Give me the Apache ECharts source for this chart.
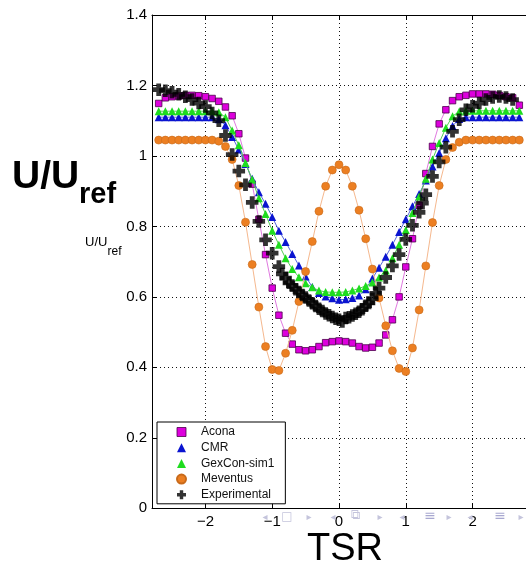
<!DOCTYPE html>
<html><head><meta charset="utf-8">
<script src="https://cdn.jsdelivr.net/npm/echarts@6/dist/echarts.min.js"></script>
<style>html,body{margin:0;padding:0;background:#fff}#c{width:526px;height:568px}</style>
</head><body><div id="c"></div>
<script>
// ---- data ----
const tsrModel = [-2.7,-2.6,-2.5,-2.4,-2.3,-2.2,-2.1,-2.0,-1.9,-1.8,-1.7,-1.6,-1.5,-1.4,-1.3,-1.2,-1.1,-1.0,-0.9,-0.8,-0.7,-0.6,-0.5,-0.4,-0.3,-0.2,-0.1,0,0.1,0.2,0.3,0.4,0.5,0.6,0.7,0.8,0.9,1.0,1.1,1.2,1.3,1.4,1.5,1.6,1.7,1.8,1.9,2.0,2.1,2.2,2.3,2.4,2.5,2.6,2.7];
const acona = [1.149,1.165,1.168,1.170,1.172,1.172,1.171,1.168,1.163,1.155,1.139,1.114,1.063,0.994,0.920,0.820,0.720,0.625,0.548,0.497,0.466,0.450,0.447,0.450,0.459,0.470,0.473,0.475,0.473,0.469,0.459,0.455,0.457,0.469,0.492,0.535,0.600,0.685,0.765,0.860,0.950,1.027,1.091,1.131,1.157,1.168,1.172,1.176,1.176,1.176,1.175,1.172,1.168,1.165,1.144];
const cmr = [1.110,1.110,1.110,1.110,1.110,1.110,1.110,1.110,1.110,1.104,1.087,1.054,1.018,0.977,0.935,0.897,0.864,0.827,0.788,0.756,0.722,0.689,0.658,0.628,0.611,0.601,0.596,0.592,0.593,0.597,0.604,0.622,0.652,0.683,0.714,0.748,0.784,0.820,0.857,0.892,0.930,0.970,1.008,1.050,1.085,1.105,1.110,1.110,1.110,1.110,1.110,1.110,1.110,1.110,1.110];
const gexcon = [1.127,1.127,1.127,1.127,1.127,1.127,1.127,1.127,1.127,1.124,1.110,1.072,1.030,0.980,0.933,0.880,0.835,0.788,0.748,0.710,0.679,0.656,0.639,0.627,0.618,0.614,0.613,0.613,0.614,0.618,0.624,0.631,0.641,0.655,0.675,0.710,0.748,0.790,0.838,0.885,0.935,0.990,1.037,1.080,1.113,1.126,1.128,1.128,1.128,1.128,1.128,1.128,1.128,1.128,1.128];
const meventus = [1.045,1.045,1.045,1.045,1.045,1.045,1.045,1.045,1.045,1.042,1.027,0.990,0.916,0.812,0.692,0.571,0.459,0.394,0.391,0.440,0.505,0.587,0.672,0.757,0.843,0.914,0.960,0.975,0.960,0.914,0.846,0.765,0.679,0.597,0.518,0.447,0.397,0.388,0.455,0.563,0.688,0.811,0.916,0.990,1.024,1.039,1.045,1.045,1.045,1.045,1.045,1.045,1.045,1.045,1.045];
const expX = [-2.7,-2.6,-2.5,-2.4,-2.3,-2.2,-2.1,-2.0,-1.9,-1.8,-1.7,-1.6,-1.5,-1.4,-1.3,-1.2,-1.1,-1.0,-0.9,-0.85,-0.8,-0.75,-0.7,-0.65,-0.6,-0.55,-0.5,-0.45,-0.4,-0.35,-0.3,-0.25,-0.2,-0.15,-0.1,-0.05,0,0.05,0.1,0.15,0.2,0.25,0.3,0.35,0.4,0.45,0.5,0.55,0.6,0.7,0.8,0.9,1.0,1.1,1.2,1.25,1.3,1.4,1.5,1.6,1.7,1.8,1.9,2.0,2.1,2.2,2.3,2.4,2.5,2.6];
const expY = [1.188,1.185,1.181,1.175,1.168,1.160,1.150,1.140,1.122,1.100,1.058,1.004,0.957,0.918,0.868,0.814,0.762,0.724,0.686,0.665,0.653,0.640,0.632,0.622,0.614,0.605,0.598,0.590,0.582,0.574,0.566,0.560,0.553,0.548,0.543,0.538,0.535,0.530,0.540,0.542,0.547,0.552,0.558,0.565,0.575,0.583,0.595,0.610,0.625,0.655,0.688,0.720,0.763,0.803,0.840,0.866,0.890,0.942,0.983,1.025,1.070,1.103,1.131,1.141,1.150,1.160,1.166,1.169,1.166,1.160];
const seriesNames = ['Acona','CMR','GexCon-sim1','Meventus','Experimental'];
const xTicks = [-2,-1,0,1,2];

// ---- chart ----
function pairs(xs, ys){ return xs.map((x,i)=>[x, ys[i]]); }
const plusPath = 'path://M3.4,0H7.6V3.4H11V7.6H7.6V11H3.4V7.6H0V3.4H3.4Z';
const FF = '"Liberation Sans", Arial, sans-serif';
const chart = echarts.init(document.getElementById('c'), null, {renderer:'canvas'});
const navColor = '#c4c4dc';
function nav(t, x, y, size, color){
  return {type:'text', x:x, y:y, z:5, style:{text:t, fontSize:size, fontFamily:'DejaVu Sans', fill:color||navColor, align:'center', textAlign:'center', verticalAlign:'middle', textVerticalAlign:'middle'}};
}
const option = {
  animation:false,
  backgroundColor:'#fff',
  textStyle:{fontFamily:FF},
  grid:{left:152, right:-2.3, top:15, bottom:59.7},
  xAxis:[{
    type:'value', min:-2.8, max:2.8, splitNumber:5,
    axisLine:{show:true, onZero:false, lineStyle:{color:'#000', width:1}},
    axisTick:{show:true, inside:true, length:5, lineStyle:{color:'#000'}},
    axisLabel:{showMinLabel:false, showMaxLabel:false, color:'#000', fontSize:15, fontFamily:FF, margin:6,
      formatter:v => (xTicks.indexOf(v) >= 0 ? String(v).replace('-', '\u2212') : '')},
    splitLine:{show:true, lineStyle:{color:'#111', type:[1,3], width:1}}
  },{
    type:'value', position:'top', min:-2.8, max:2.8, splitNumber:5,
    axisLine:{show:true, onZero:false, lineStyle:{color:'#000', width:1}},
    axisTick:{show:true, inside:true, length:5, lineStyle:{color:'#000'}},
    axisLabel:{show:false}, splitLine:{show:false}
  }],
  yAxis:[{
    type:'value', min:0, max:1.4, interval:0.2,
    axisLine:{show:true, onZero:false, lineStyle:{color:'#000', width:1}},
    axisTick:{show:true, inside:true, length:5, lineStyle:{color:'#000'}},
    axisLabel:{color:'#000', fontSize:15, fontFamily:FF, margin:5},
    splitLine:{show:true, lineStyle:{color:'#111', type:[1,3], width:1}}
  }],
  legend:{
    orient:'vertical', left:157, top:422, padding:[4,11,3,19], itemGap:3.7,
    itemWidth:9, itemHeight:9, backgroundColor:'#fff', borderColor:'#000', borderWidth:1, borderRadius:0,
    selectedMode:false,
    textStyle:{fontSize:12, color:'#111', fontFamily:FF, padding:[0,0,0,10]},
    data:[
      {name:seriesNames[0], icon:'rect', itemStyle:{borderWidth:0.8}},
      {name:seriesNames[1], icon:'triangle'},
      {name:seriesNames[2], icon:'triangle'},
      {name:seriesNames[3], icon:'circle'},
      {name:seriesNames[4], icon:plusPath}
    ]
  },
  series:[
    {name:seriesNames[0], type:'line', data:pairs(tsrModel, acona), symbol:'rect', symbolSize:6.5, showSymbol:true,
     lineStyle:{color:'#e07ae0', width:1}, itemStyle:{color:'#dd00dd', borderColor:'#4a004a', borderWidth:0.8}, z:2},
    {name:seriesNames[1], type:'line', data:pairs(tsrModel, cmr), symbol:'triangle', symbolSize:8, showSymbol:true,
     lineStyle:{color:'#5566dd', width:1}, itemStyle:{color:'#0a14d0'}, z:3},
    {name:seriesNames[2], type:'line', data:pairs(tsrModel, gexcon), symbol:'triangle', symbolSize:8, showSymbol:true,
     lineStyle:{color:'#55cc55', width:1}, itemStyle:{color:'#1fdc1f'}, z:4},
    {name:seriesNames[3], type:'line', data:pairs(tsrModel, meventus), symbol:'circle', symbolSize:8, showSymbol:true,
     lineStyle:{color:'#f5b88e', width:1}, itemStyle:{color:'#ec7f22', borderColor:'#c86a1a', borderWidth:0.6}, z:5},
    {name:seriesNames[4], type:'scatter', data:pairs(expX, expY), symbol:plusPath, symbolSize:12.5,
     itemStyle:{color:'#000'}, z:6}
  ],
  graphic:[
    {type:'text', x:12, y:177, style:{text:'U/U', fontSize:39, fontWeight:'bold', fontFamily:FF, fill:'#000', align:'left', textAlign:'left', verticalAlign:'middle', textVerticalAlign:'middle'}},
    {type:'text', x:79, y:195, style:{text:'ref', fontSize:29, fontWeight:'bold', fontFamily:FF, fill:'#000', align:'left', textAlign:'left', verticalAlign:'middle', textVerticalAlign:'middle'}},
    {type:'text', x:85, y:242, style:{text:'U/U', fontSize:13, fontFamily:FF, fill:'#000', align:'left', textAlign:'left', verticalAlign:'middle', textVerticalAlign:'middle'}},
    {type:'text', x:107.5, y:252, style:{text:'ref', fontSize:12, fontFamily:FF, fill:'#000', align:'left', textAlign:'left', verticalAlign:'middle', textVerticalAlign:'middle'}},
    {type:'text', x:345, y:550, style:{text:'TSR', fontSize:38, fontFamily:FF, fill:'#000', align:'center', textAlign:'center', verticalAlign:'middle', textVerticalAlign:'middle'}},
    nav('\u25C2', 265, 517, 10),
    nav('\u25A1', 287, 517, 12),
    nav('\u25B8', 309, 517, 10),
    nav('\u25C2', 333, 517, 10),
    nav('\u29C9', 355, 516, 13),
    nav('\u25B8', 380, 517, 10),
    nav('\u25C2', 402, 517, 10),
    nav('\u2261', 430, 516, 14, '#a8a8d0'),
    nav('\u25B8', 449, 517, 10),
    nav('\u25C2', 470, 517, 10),
    nav('\u2261', 500, 516, 14, '#a8a8d0'),
    nav('\u25B8', 521, 517, 10)
  ]
};
chart.setOption(option);
</script>
</body></html>
